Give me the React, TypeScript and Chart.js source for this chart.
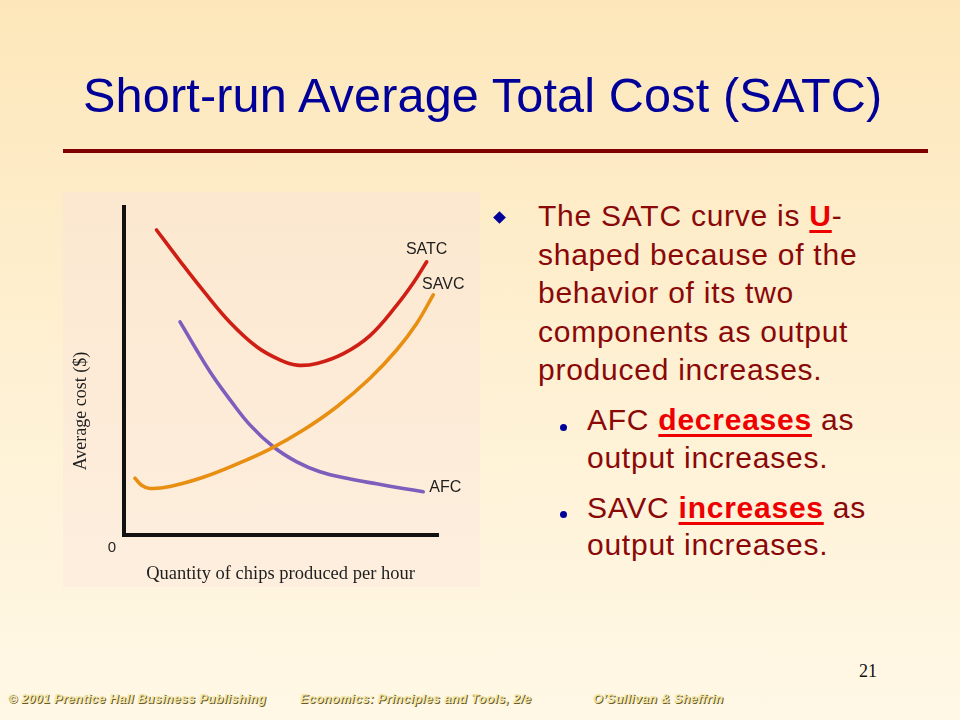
import React, { useEffect, useRef } from "react";
import { Chart, registerables } from "chart.js";

Chart.register(...registerables);

// ---- data (quantity 0-100, average cost 0-100) ----
const seriesNames = ["SATC", "SAVC", "AFC"];
const satcQty = [10.4, 17.9, 25.3, 33.9, 42.4, 49.8, 55.2, 61.6, 70.1, 78.6, 87.1, 92.4, 96.7];
const satcCost = [93.0, 83.5, 74.5, 64.8, 57.4, 53.4, 51.8, 52.3, 55.3, 60.8, 70.0, 76.8, 83.3];
const savcQty = [3.5, 5.6, 8.3, 14.7, 25.3, 36.0, 46.6, 57.3, 68.0, 78.6, 87.1, 93.5, 98.8];
const savcCost = [17.3, 15.2, 14.2, 14.8, 17.6, 21.6, 26.2, 32.0, 39.1, 47.8, 56.4, 64.5, 73.2];
const afcQty = [17.9, 23.2, 28.5, 33.9, 40.3, 47.7, 55.2, 62.6, 71.2, 80.7, 89.2, 95.6];
const afcCost = [65.0, 56.4, 48.3, 41.2, 33.5, 26.9, 22.3, 19.3, 17.3, 15.6, 14.2, 13.2];
const xAxisTitle = "Quantity of chips produced per hour";
const yAxisTitle = "Average cost ($)";
const originLabel = "0";

const toPoints = (xs: number[], ys: number[]) => xs.map((x, i) => ({ x, y: ys[i] }));

const curveColors = ["#CF1E14", "#E88E10", "#7D5EBD"];
const labelOffsets: Array<[number, number]> = [
  [0, -12],
  [10, -10],
  [22, -4],
];

const decorPlugin = {
  id: "decor",
  beforeDatasetsDraw(chart: any) {
    const { ctx, chartArea, scales } = chart;
    const x0 = scales.x.getPixelForValue(0);
    const y0 = scales.y.getPixelForValue(0);
    ctx.save();
    ctx.strokeStyle = "#111111";
    ctx.lineWidth = 4;
    ctx.lineCap = "square";
    ctx.beginPath();
    ctx.moveTo(x0, chartArea.top);
    ctx.lineTo(x0, y0);
    ctx.lineTo(chartArea.right, y0);
    ctx.stroke();
    ctx.restore();
  },
  afterDatasetsDraw(chart: any) {
    const { ctx, chartArea } = chart;
    ctx.save();
    ctx.fillStyle = "#1e1e1e";
    // origin
    ctx.font = '15px "Liberation Sans", Arial, sans-serif';
    ctx.textAlign = "center";
    ctx.textBaseline = "middle";
    ctx.fillText(originLabel, chartArea.left - 12, chartArea.bottom + 13);
    // x title
    ctx.font = '18.5px "Liberation Serif", "Times New Roman", serif';
    ctx.fillText(xAxisTitle, (chartArea.left + chartArea.right) / 2, chartArea.bottom + 39);
    // y title
    ctx.save();
    ctx.translate(chartArea.left - 43, (chartArea.top + chartArea.bottom) / 2 + 40);
    ctx.rotate(-Math.PI / 2);
    ctx.font = '18px "Liberation Serif", "Times New Roman", serif';
    ctx.fillText(yAxisTitle, 0, 0);
    ctx.restore();
    // curve labels
    ctx.font = '16px "Liberation Sans", Arial, sans-serif';
    chart.data.datasets.forEach((ds: any, i: number) => {
      const meta = chart.getDatasetMeta(i);
      const last = meta.data[meta.data.length - 1];
      const [dx, dy] = labelOffsets[i];
      ctx.fillText(ds.label, last.x + dx, last.y + dy);
    });
    ctx.restore();
  },
};

function CostChart() {
  const ref = useRef<HTMLCanvasElement | null>(null);
  useEffect(() => {
    if (!ref.current) return;
    const series = [
      toPoints(satcQty, satcCost),
      toPoints(savcQty, savcCost),
      toPoints(afcQty, afcCost),
    ];
    const chart = new Chart(ref.current, {
      type: "line",
      data: {
        datasets: series.map((pts, i) => ({
          label: seriesNames[i],
          data: pts,
          borderColor: curveColors[i],
          borderWidth: 3.6,
          pointRadius: 0,
          tension: 0.4,
          fill: false,
          borderCapStyle: "round",
          borderJoinStyle: "round",
          clip: false,
        })) as any,
      },
      options: {
        animation: false,
        responsive: false,
        maintainAspectRatio: false,
        layout: { padding: { left: 61, top: 15, right: 43, bottom: 52 } },
        plugins: { legend: { display: false }, tooltip: { enabled: false }, title: { display: false } },
        scales: {
          x: { type: "linear", min: 0, max: 100, display: false },
          y: { type: "linear", min: 0, max: 100, display: false },
        },
        events: [],
      },
      plugins: [decorPlugin],
    });
    return () => chart.destroy();
  }, []);
  return (
    <canvas
      ref={ref}
      width={417}
      height={395}
      style={{ position: "absolute", left: 0, top: 0, width: 417, height: 395 }}
    />
  );
}

const textStyle: React.CSSProperties = {
  position: "absolute",
  fontFamily: '"Liberation Sans", Arial, sans-serif',
  fontSize: 30,
  color: "#8A0808",
  letterSpacing: 0.75,
  whiteSpace: "nowrap",
  margin: 0,
};
const hot: React.CSSProperties = { color: "#EE0000", fontWeight: "bold", textDecoration: "underline", textDecorationThickness: 3, textUnderlineOffset: 4 };
const footer: React.CSSProperties = {
  position: "absolute",
  top: 692,
  fontFamily: '"Liberation Sans", Arial, sans-serif',
  fontSize: 12.5,
  fontWeight: "bold",
  fontStyle: "italic",
  color: "#F2E6A6",
  textShadow: "1px 1px 0 #6b5b2b",
  letterSpacing: 0.3,
  whiteSpace: "pre",
};

export default function App() {
  return (
    <div
      style={{
        position: "relative",
        width: 960,
        height: 720,
        overflow: "hidden",
        background: "linear-gradient(180deg, #FDE7BA 0%, #FEF0D2 50%, #FFF8E6 100%)",
      }}
    >
      <style>{"body{margin:0}"}</style>
      <div
        style={{
          position: "absolute",
          left: 83,
          top: 71,
          fontFamily: '"Liberation Sans", Arial, sans-serif',
          fontSize: 48.6,
          letterSpacing: 0.15,
          lineHeight: "48px",
          color: "#000099",
          whiteSpace: "nowrap",
        }}
      >
        Short-run Average Total Cost (SATC)
      </div>
      <div style={{ position: "absolute", left: 63, top: 149, width: 865, height: 4, background: "#800000" }} />

      <div
        style={{
          position: "absolute",
          left: 63,
          top: 192,
          width: 417,
          height: 395,
          background: "linear-gradient(180deg, #FCE8D0 0%, #FDEEDE 100%)",
        }}
      >
        <CostChart />
      </div>

      <div
        style={{
          position: "absolute",
          left: 495,
          top: 213,
          width: 9,
          height: 9,
          background: "#000099",
          transform: "rotate(45deg)",
        }}
      />
      <div style={{ ...textStyle, left: 538, top: 197, lineHeight: "38.5px" }}>
        The SATC curve is <span style={hot}>U</span>-<br />
        shaped because of the<br />
        behavior of its two<br />
        components as output<br />
        produced increases.
      </div>

      <div style={{ position: "absolute", left: 559.5, top: 423.5, width: 7, height: 7, borderRadius: "50%", background: "#000099" }} />
      <div style={{ ...textStyle, left: 587, top: 401, lineHeight: "37.6px" }}>
        AFC <span style={hot}>decreases</span> as<br />
        output increases.
      </div>
      <div style={{ position: "absolute", left: 559.5, top: 510.5, width: 7, height: 7, borderRadius: "50%", background: "#000099" }} />
      <div style={{ ...textStyle, left: 587, top: 488.7, lineHeight: "37.6px" }}>
        SAVC <span style={hot}>increases</span> as<br />
        output increases.
      </div>

      <div
        style={{
          position: "absolute",
          left: 859,
          top: 662,
          fontFamily: '"Liberation Serif", "Times New Roman", serif',
          fontSize: 18,
          lineHeight: "18px",
          color: "#111",
        }}
      >
        21
      </div>

      <div style={{ ...footer, left: 8 }}>© 2001 Prentice Hall Business Publishing</div>
      <div style={{ ...footer, left: 300 }}>Economics: Principles and Tools, 2/e</div>
      <div style={{ ...footer, left: 593 }}>O’Sullivan &amp; Sheffrin</div>
    </div>
  );
}
